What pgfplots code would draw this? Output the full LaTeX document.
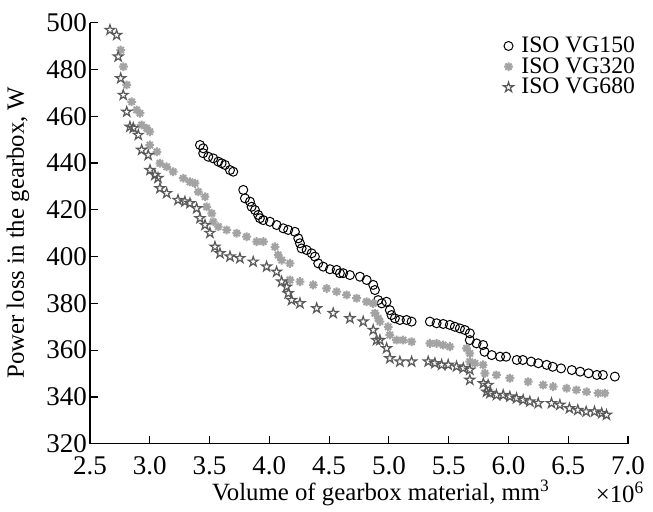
\documentclass[border=0pt]{standalone}
\usepackage{fontspec}
\setmainfont{Liberation Serif}
\usepackage{pgfplots}
\pgfplotsset{compat=1.18}

\definecolor{c150}{HTML}{000000}
\definecolor{c320}{HTML}{A3A3A3}
\definecolor{c680}{HTML}{595959}
\newcommand\lf{\fontsize{13.5}{15}\selectfont}
\newcommand\mf{\fontsize{12.4}{14}\selectfont}
\newcommand\legf{\fontsize{11.8}{13}\selectfont}

% outlined five-point star
\pgfdeclareplotmark{pentagram}{%
  \pgfpathmoveto{\pgfpointpolar{90}{\pgfplotmarksize}}%
  \pgfpathlineto{\pgfpointpolar{126}{0.382\pgfplotmarksize}}%
  \pgfpathlineto{\pgfpointpolar{162}{\pgfplotmarksize}}%
  \pgfpathlineto{\pgfpointpolar{198}{0.382\pgfplotmarksize}}%
  \pgfpathlineto{\pgfpointpolar{234}{\pgfplotmarksize}}%
  \pgfpathlineto{\pgfpointpolar{270}{0.382\pgfplotmarksize}}%
  \pgfpathlineto{\pgfpointpolar{306}{\pgfplotmarksize}}%
  \pgfpathlineto{\pgfpointpolar{342}{0.382\pgfplotmarksize}}%
  \pgfpathlineto{\pgfpointpolar{18}{\pgfplotmarksize}}%
  \pgfpathlineto{\pgfpointpolar{54}{0.382\pgfplotmarksize}}%
  \pgfpathclose
  \pgfusepathqstroke}

% eight-arm asterisk
\pgfdeclareplotmark{ast8}{%
  \pgfpathmoveto{\pgfqpoint{-\pgfplotmarksize}{0pt}}%
  \pgfpathlineto{\pgfqpoint{\pgfplotmarksize}{0pt}}%
  \pgfpathmoveto{\pgfqpoint{0pt}{-\pgfplotmarksize}}%
  \pgfpathlineto{\pgfqpoint{0pt}{\pgfplotmarksize}}%
  \pgfpathmoveto{\pgfpointpolar{45}{\pgfplotmarksize}}%
  \pgfpathlineto{\pgfpointpolar{225}{\pgfplotmarksize}}%
  \pgfpathmoveto{\pgfpointpolar{135}{\pgfplotmarksize}}%
  \pgfpathlineto{\pgfpointpolar{315}{\pgfplotmarksize}}%
  \pgfusepathqstroke}

\begin{document}
\begin{tikzpicture}
\useasboundingbox (-45pt,-33.65pt) rectangle (281.5pt,221.85pt);
\begin{axis}[
    scale only axis,
    width=269pt, height=210.5pt,
    xmin=2.5, xmax=7, ymin=320, ymax=500,
    axis x line*=bottom, axis y line*=left,
    axis line style={-, line width=0.6pt},
    xtick={2.5,3,3.5,4,4.5,5,5.5,6,6.5,7},
    ytick={320,340,360,380,400,420,440,460,480,500},
    tick align=inside,
    major tick length=4pt,
    tick style={line width=0.6pt, black},
    scaled x ticks=false,
    xticklabel style={yshift=-3pt, /pgf/number format/.cd, fixed, fixed zerofill, precision=1, assume math mode=true},
    yticklabel style={xshift=2pt, /pgf/number format/assume math mode=true},
    tick label style={font=\lf},
    legend cell align=left,
    legend style={at={(0.768,0.975)}, anchor=north west, draw=none, fill=none,
        font=\legf, row sep=-2pt, inner sep=0pt, nodes={inner sep=1.5pt},
        /tikz/every odd column/.append style={column sep=2.5pt}},
    legend image code/.code={\draw plot coordinates {(0.12cm,0cm)};},
]
\addplot[only marks, mark=o, mark size=2.25pt, draw=c150, line width=0.5pt] coordinates {
(3.420,447.7) (3.447,446.3) (3.447,444.2) (3.489,442.7) (3.531,442.0) (3.573,440.6)
(3.601,439.9) (3.629,439.2) (3.671,437.0) (3.698,436.3) (3.782,428.5) (3.796,424.9)
(3.838,423.5) (3.852,421.3) (3.880,419.9) (3.907,417.8) (3.921,416.4) (3.949,415.6)
(4.005,414.9) (4.061,413.5) (4.116,412.1) (4.158,411.4) (4.214,410.6) (4.242,407.8)
(4.256,405.7) (4.270,403.5) (4.312,402.8) (4.354,401.4) (4.381,400.0) (4.409,397.1)
(4.451,395.7) (4.507,394.6) (4.563,394.3) (4.590,392.9) (4.618,392.9) (4.674,392.1)
(4.758,391.4) (4.814,390.0) (4.869,387.9) (4.883,385.7) (4.910,381.4) (4.940,380.0)
(4.980,380.7) (5.008,377.1) (5.022,375.0) (5.050,373.6) (5.092,372.9) (5.148,372.9)
(5.190,372.2) (5.343,372.2) (5.399,371.5) (5.454,371.2) (5.510,370.8) (5.552,370.0)
(5.594,369.3) (5.636,368.6) (5.677,367.2) (5.677,364.3) (5.733,362.9) (5.788,362.2)
(5.800,359.3) (5.860,357.9) (5.930,357.2) (5.980,357.2) (6.070,355.8) (6.120,355.8)
(6.190,355.1) (6.250,354.4) (6.320,353.7) (6.370,352.9) (6.440,352.2) (6.530,351.5)
(6.600,350.8) (6.670,350.1) (6.740,349.4) (6.790,349.4) (6.890,348.7)
};
\addlegendentry{ISO VG150}
\addplot[only marks, mark=ast8, mark size=2.2pt, draw=c320, line width=1pt] coordinates {
(2.757,488.3) (2.780,481.2) (2.807,473.4) (2.849,466.2) (2.890,462.7) (2.918,461.3)
(2.932,456.3) (2.974,454.9) (3.000,453.4) (3.000,447.7) (3.060,444.8) (3.085,439.9)
(3.141,438.4) (3.196,436.3) (3.280,433.5) (3.336,432.0) (3.378,431.3) (3.406,427.7)
(3.462,425.6) (3.476,421.3) (3.518,418.5) (3.531,414.9) (3.573,412.8) (3.643,411.4)
(3.727,410.0) (3.810,408.5) (3.894,406.4) (3.950,406.4) (4.047,404.2) (4.074,400.7)
(4.103,398.5) (4.172,397.1) (4.172,390.0) (4.256,389.3) (4.367,387.9) (4.479,386.4)
(4.563,385.0) (4.646,383.6) (4.730,382.2) (4.814,380.7) (4.869,380.0) (4.883,375.8)
(4.911,373.6) (4.925,372.2) (4.994,370.0) (5.008,366.5) (5.064,364.3) (5.120,364.3)
(5.190,363.6) (5.343,362.9) (5.399,362.9) (5.454,362.2) (5.510,361.5) (5.650,360.8)
(5.677,358.6) (5.677,355.1) (5.720,354.4) (5.788,353.7) (5.803,350.1) (5.900,349.4)
(6.012,348.0) (6.165,346.5) (6.290,345.1) (6.374,344.4) (6.486,343.7) (6.569,343.0)
(6.653,342.2) (6.750,341.6) (6.806,341.6)
};
\addlegendentry{ISO VG320}
\addplot[only marks, mark=pentagram, mark size=2.6pt, draw=c680, line width=0.6pt] coordinates {
(2.667,496.9) (2.723,494.7) (2.736,485.5) (2.757,476.2) (2.778,469.1) (2.807,461.9)
(2.834,455.5) (2.862,455.0) (2.904,452.0) (2.932,445.6) (2.987,443.4) (3.002,437.0)
(3.043,434.9) (3.069,433.6) (3.085,429.2) (3.141,427.1) (3.236,424.2) (3.294,423.5)
(3.336,422.8) (3.392,420.6) (3.420,416.4) (3.462,413.5) (3.503,410.1) (3.545,404.2)
(3.587,401.4) (3.671,400.0) (3.754,399.3) (3.865,397.8) (3.977,395.7) (4.061,393.5)
(4.103,389.3) (4.145,387.1) (4.158,384.3) (4.186,381.4) (4.256,380.0) (4.396,377.9)
(4.534,375.8) (4.674,373.6) (4.785,372.2) (4.869,368.6) (4.897,364.3) (4.925,364.3)
(4.981,360.8) (5.008,356.5) (5.092,355.1) (5.190,355.1) (5.329,355.1) (5.385,354.4)
(5.441,353.7) (5.496,353.7) (5.566,353.0) (5.622,352.3) (5.677,351.6) (5.677,347.3)
(5.790,345.8) (5.830,345.1) (5.817,342.2) (5.845,341.6) (5.900,340.8) (5.956,340.8)
(6.012,340.1) (6.068,339.4) (6.123,338.7) (6.179,338.0) (6.249,337.3) (6.360,337.3)
(6.430,336.6) (6.510,335.1) (6.580,334.4) (6.650,333.7) (6.720,333.7) (6.780,333.0)
(6.820,332.3)
};
\addlegendentry{ISO VG680}
\end{axis}
\node[rotate=90, font=\mf] at (-36pt,105.5pt) {Power loss in the gearbox, W};
\node[font=\mf] at (145.5pt,-24.5pt) {Volume of gearbox material, mm\textsuperscript{3}};
\node[font=\mf] at (265pt,-24.5pt) {×10\textsuperscript{6}};
\end{tikzpicture}
\end{document}
